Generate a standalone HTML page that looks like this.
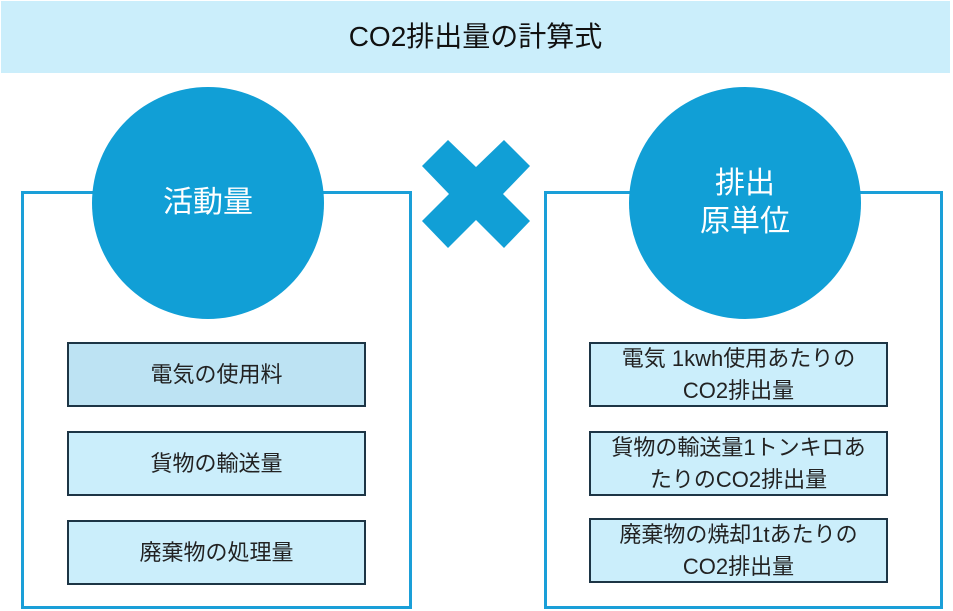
<!DOCTYPE html>
<html><head><meta charset="utf-8"><style>
body{margin:0;width:953px;height:611px;background:#fff;position:relative;overflow:hidden;font-family:"Liberation Sans","Noto Sans CJK JP",sans-serif;}
.hdr{position:absolute;left:1px;top:1px;width:949px;height:72px;background:#cbeefb;color:#111;font-size:28px;text-align:center;line-height:72px;}
.frame{position:absolute;border:3px solid #1a9fd8;box-sizing:border-box;}
.circ{position:absolute;width:232px;height:232px;border-radius:50%;background:#119fd6;color:#fff;font-size:30px;display:flex;align-items:center;justify-content:center;text-align:center;line-height:38px;}
.box{position:absolute;width:299px;height:65px;box-sizing:border-box;border:2px solid #1d3545;background:#cbeefb;color:#222;font-size:22px;display:flex;align-items:center;justify-content:center;text-align:center;line-height:32px;white-space:nowrap;}
</style></head><body>
<div class="hdr">CO2排出量の計算式</div>
<div class="frame" style="left:21px;top:191px;width:391px;height:418px"></div>
<div class="frame" style="left:544px;top:191px;width:399px;height:418px"></div>
<div class="circ" style="left:92px;top:87px">活動量</div>
<div class="circ" style="left:629px;top:87px">排出<br>原単位</div>
<svg style="position:absolute;left:0;top:0" width="953" height="611"><polygon fill="#119fd6" points="448,140 476,167 504,140 530,166 503,194 530,221 504,248 476,220 448,248 422,221 449,194 422,166"/></svg>
<div class="box" style="left:67px;top:342px;background:#bde3f3">電気の使用料</div>
<div class="box" style="left:67px;top:431px">貨物の輸送量</div>
<div class="box" style="left:67px;top:520px">廃棄物の処理量</div>
<div class="box" style="left:589px;top:342px">電気 1kwh使用あたりの<br>CO2排出量</div>
<div class="box" style="left:589px;top:431px">貨物の輸送量1トンキロあ<br>たりのCO2排出量</div>
<div class="box" style="left:589px;top:518px">廃棄物の焼却1tあたりの<br>CO2排出量</div>
</body></html>
